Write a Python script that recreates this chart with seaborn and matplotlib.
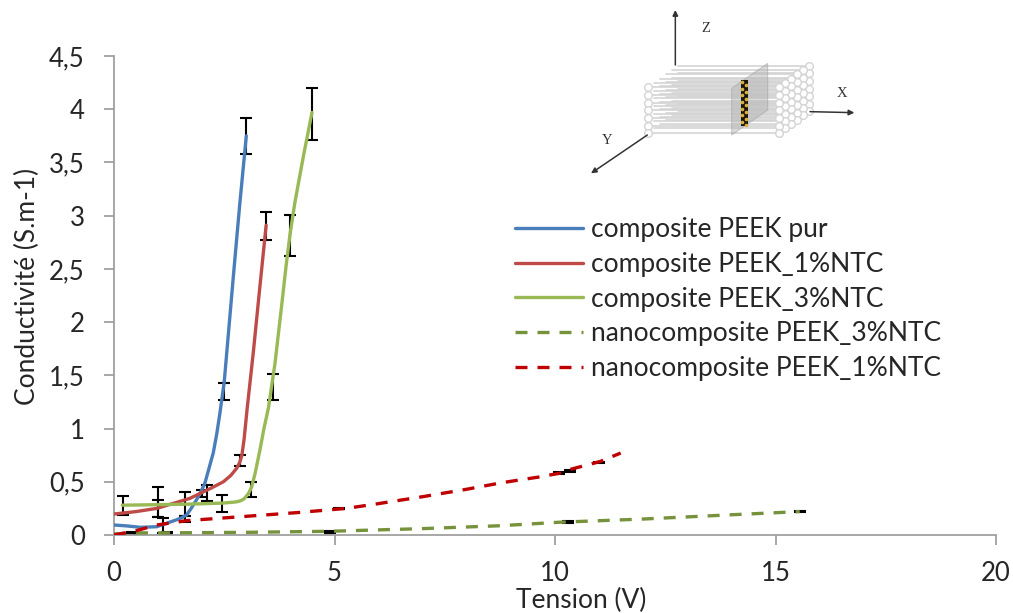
"""
Conductivite vs tension, composites PEEK, with small fibre sketch top right
"""

import numpy as np
import pandas as pd
import seaborn as sns
import matplotlib.pyplot as plt
from matplotlib.patches import Polygon

# curves
pur_x = [0, 0.3, 0.6, 0.97, 1.19, 1.4, 1.55, 1.65, 1.75, 1.87, 1.95, 2.06, 2.15, 2.25, 2.33, 2.4, 2.5, 2.7, 2.85, 3.0]
pur_y = [0.094, 0.085, 0.072, 0.078, 0.11, 0.14, 0.165, 0.19, 0.25, 0.33, 0.39, 0.485, 0.62, 0.77, 0.95, 1.14, 1.44, 2.4, 3.1, 3.75]

ntc1_x = [0, 0.5, 0.97, 1.72, 2.2, 2.48, 2.65, 2.78, 2.85, 2.9, 2.95, 3.02, 3.16, 3.3, 3.45]
ntc1_y = [0.197, 0.22, 0.25, 0.344, 0.44, 0.5, 0.56, 0.626, 0.68, 0.75, 0.9, 1.19, 1.72, 2.3, 2.91]

ntc3_x = [0.19, 1.0, 1.72, 2.48, 2.75, 2.86, 2.95, 3.05, 3.12, 3.2, 3.31, 3.4, 3.5, 3.65, 3.8, 3.9, 3.99, 4.1, 4.3, 4.49]
ntc3_y = [0.28, 0.285, 0.29, 0.3, 0.31, 0.32, 0.34, 0.39, 0.45, 0.58, 0.8, 1.0, 1.19, 1.61, 2.15, 2.52, 2.82, 3.12, 3.57, 3.97]

nano3_x = [0, 0.5, 1.2, 3, 4.9, 7, 8.75, 10.1, 12, 14, 15.55]
nano3_y = [0.01, 0.02, 0.02, 0.025, 0.035, 0.06, 0.087, 0.12, 0.15, 0.19, 0.22]

nano1_x = [0, 0.5, 0.97, 1.65, 3.08, 4.14, 5.27, 6, 7, 8, 8.75, 9.13, 9.64, 10.1, 10.38, 11.02, 11.49]
nano1_y = [0, 0.04, 0.094, 0.135, 0.178, 0.21, 0.25, 0.295, 0.36, 0.43, 0.488, 0.513, 0.545, 0.58, 0.62, 0.69, 0.77]

# error bars: x, y, lower, upper
err_x = [1.1, 1.6, 2.1, 2.5, 3.0,
         1.0, 2.0, 2.85, 3.45,
         0.2, 1.0, 1.6, 2.45, 3.1, 3.6, 4.0, 4.5,
         0.4, 1.2, 4.9, 10.3, 15.55,
         5.1, 10.1, 10.35, 11.0]
err_y = [0.09, 0.18, 0.395, 1.35, 3.75,
         0.25, 0.39, 0.70, 2.90,
         0.28, 0.29, 0.29, 0.30, 0.43, 1.39, 2.80, 3.97,
         0.02, 0.02, 0.03, 0.12, 0.22,
         0.25, 0.58, 0.60, 0.68]
err_lo = [0.07, 0.0, 0.075, 0.08, 0.17,
          0.08, 0.03, 0.05, 0.13,
          0.09, 0.12, 0.17, 0.08, 0.07, 0.12, 0.18, 0.26,
          0.008, 0.008, 0.008, 0.008, 0.008,
          0.008, 0.008, 0.008, 0.008]
err_hi = [0.07, 0.0, 0.075, 0.08, 0.17,
          0.08, 0.03, 0.05, 0.13,
          0.09, 0.16, 0.11, 0.08, 0.07, 0.12, 0.21, 0.23,
          0.008, 0.008, 0.008, 0.008, 0.008,
          0.008, 0.008, 0.008, 0.008]

series = [
    ('composite PEEK pur', pur_x, pur_y, '#4A7EBB', '-'),
    ('composite PEEK_1%NTC', ntc1_x, ntc1_y, '#BE4B48', '-'),
    ('composite PEEK_3%NTC', ntc3_x, ntc3_y, '#98B954', '-'),
    ('nanocomposite PEEK_3%NTC', nano3_x, nano3_y, '#76923C', (0, (3.6, 3))),
    ('nanocomposite PEEK_1%NTC', nano1_x, nano1_y, '#C00000', (0, (3.6, 3))),
]

x_ticks = [0, 5, 10, 15, 20]
y_ticks = [0, 0.5, 1, 1.5, 2, 2.5, 3, 3.5, 4, 4.5]
y_labels = ['0', '0,5', '1', '1,5', '2', '2,5', '3', '3,5', '4', '4,5']

W, H = 1013, 613
sns.set_style('white')
plt.rcParams['font.family'] = ['Lato', 'DejaVu Sans']

fig = plt.figure(figsize=(W / 100, H / 100), dpi=100)
ax = fig.add_axes([114 / W, 1 - 535 / H, (996 - 114) / W, (535 - 56) / H])

ax.errorbar(err_x, err_y, yerr=[err_lo, err_hi], fmt='none', ecolor='black',
            elinewidth=1.5, capsize=4.5, capthick=1.5, zorder=1)

for name, xs, ys, color, style in series:
    df = pd.DataFrame({'x': xs, 'y': ys})
    sns.lineplot(data=df, x='x', y='y', color=color, linestyle=style, linewidth=2.4,
                 sort=False, errorbar=None, label=name, ax=ax, zorder=3)

ax.set_xlim(0, 20)
ax.set_ylim(0, 4.5)
ax.set_xticks(x_ticks)
ax.set_yticks(y_ticks)
ax.set_yticklabels(y_labels)
ax.tick_params(axis='both', length=7, width=1.3, color='#A0A0A0', labelsize=18.5,
               bottom=True, left=True)
ax.tick_params(axis='y', pad=14)
ax.tick_params(axis='x', pad=12)
for side in ['top', 'right']:
    ax.spines[side].set_visible(False)
for side in ['left', 'bottom']:
    ax.spines[side].set_color('#A0A0A0')
    ax.spines[side].set_linewidth(1.3)

ax.set_xlabel('')
ax.set_ylabel('')
fig.text(581 / W, 1 - 600 / H, 'Tension (V)', ha='center', va='center', fontsize=19)
fig.text(27 / W, 1 - 286 / H, 'Conductivité (S.m-1)', ha='center', va='center',
         rotation=90, fontsize=19)

ax.legend(loc='upper left', bbox_to_anchor=((515 - 114) / (996 - 114), (535 - 217) / (535 - 56)),
          frameon=False, fontsize=19, handlelength=2.58, handletextpad=0.3,
          labelspacing=0.37, borderpad=0, borderaxespad=0)

# fibre sketch, in zoomed picture units of the top right corner
sk = fig.add_axes([570 / W, 1 - 190 / H, 300 / W, 190 / H])
sk.set_xlim(0, 900)
sk.set_ylim(570, 0)
sk.axis('off')
sk.patch.set_alpha(0)

grey = '#D4D4D4'
rows = [262, 285, 308, 331, 354, 377, 398]
for j in range(5, -1, -1):
    dx, dy = 18 * j, -13 * j
    for r in rows:
        sk.plot([235 + dx, 628 + dx], [r + dy, r + dy], color=grey, lw=1.2, zorder=1)
    sk.plot([628 + dx] * len(rows), [r + dy for r in rows], 'o', ms=5.5, mfc='white',
            mec=grey, mew=1, zorder=2)
sk.plot([235] * len(rows), rows, 'o', ms=5.5, mfc='white', mec=grey, mew=1, zorder=2)

sk.add_patch(Polygon([(485, 265), (593, 190), (593, 330), (485, 405)], closed=True,
                     facecolor='#B4B4B4', edgecolor='#A0A0A0', alpha=0.5, lw=0.8, zorder=3))
sk.fill_between([513, 533], [240, 240], [378, 378], color='#1A1408', zorder=4, lw=0)
sk.plot([517, 529] * 7, np.arange(246, 246 + 14 * 10, 10), 'o', ms=1.6, color='#D8B040', zorder=5)

arrow = dict(arrowstyle='-|>', color='#333333', lw=1.1, mutation_scale=8,
             shrinkA=0, shrinkB=0)
sk.annotate('', xy=(316, 30), xytext=(316, 195), arrowprops=arrow)
sk.annotate('', xy=(853, 338), xytext=(720, 335), arrowprops=arrow)
sk.annotate('', xy=(63, 520), xytext=(232, 405), arrowprops=arrow)
for label, zx, zy in [('Z', 407, 85), ('X', 815, 280), ('Y', 112, 420)]:
    sk.text(zx, zy, label, family='Liberation Serif', fontsize=10.5, color='#333333',
            ha='center', va='center')

fig.savefig('out.png', dpi=100)
